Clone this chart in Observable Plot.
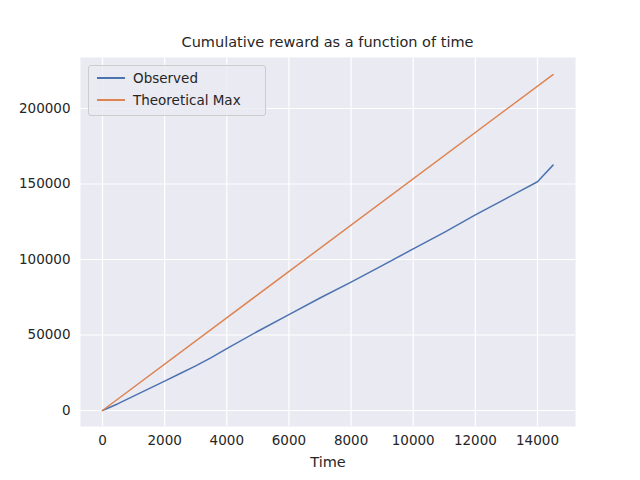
<!DOCTYPE html>
<html><head>
<script src="https://cdn.jsdelivr.net/npm/d3@7"></script>
<script src="https://cdn.jsdelivr.net/npm/@observablehq/plot@0.6"></script>
<style>
body{margin:0;background:#fff;font-family:"DejaVu Sans",sans-serif;}
#wrap{position:relative;width:640px;height:480px;}
#title{position:absolute;top:34px;left:80px;width:495px;text-align:center;font-size:14.5px;color:#262626;}
#legend{position:absolute;left:88px;top:65px;width:176px;height:49px;background:rgba(234,234,242,0.8);border:1px solid #ccc;border-radius:3px;font-size:13.5px;color:#262626;}
.li{position:absolute;left:8px;display:flex;align-items:center;}
.li span{display:inline-block;width:28px;height:2px;margin-right:8px;}
#chart{position:absolute;top:50px;left:0;}
</style></head><body>
<div id="wrap">
<div id="chart"></div>
<div id="title">Cumulative reward as a function of time</div>
<div id="legend">
<div class="li" style="top:4px"><span style="background:#4C72B0"></span>Observed</div>
<div class="li" style="top:26px"><span style="background:#DD8452"></span>Theoretical Max</div>
</div>
</div>
<script>
// time steps and cumulative reward
const times = [0, 500, 1000, 1500, 2000, 2500, 3000, 3500, 4000, 5000, 6000, 7000, 8000, 9000, 10000, 11000, 12000, 13000, 14000, 14500];
const observed = [0, 4500, 9500, 14500, 19500, 24500, 29500, 35000, 41000, 52500, 63500, 74500, 85000, 96000, 107000, 118000, 129500, 140500, 151500, 162500];
const maxTimes = [0, 14500];
const maxReward = [0, 222500];

const obsData = times.map((t, i) => ({t, v: observed[i]}));
const maxData = maxTimes.map((t, i) => ({t, v: maxReward[i]}));
const xTicks = d3.range(0, 14001, 2000);
const yTicks = d3.range(0, 200001, 50000);

const chart = Plot.plot({
  width: 640, height: 430,
  marginLeft: 80, marginRight: 65, marginTop: 7, marginBottom: 54,
  style: {fontFamily: "DejaVu Sans", fontSize: "13.5px", color: "#262626", background: "transparent"},
  x: {domain: [-708, 15223], label: null},
  y: {domain: [-10600, 233775], label: null},
  marks: [
    Plot.frame({fill: "#EAEAF2"}),
    Plot.gridX(xTicks, {stroke: "white", strokeOpacity: 1, strokeWidth: 1.2}),
    Plot.gridY(yTicks, {stroke: "white", strokeOpacity: 1, strokeWidth: 1.2}),
    Plot.axisX(xTicks, {tickSize: 0, tickPadding: 9, tickFormat: d => String(d), label: null}),
    Plot.axisY(yTicks, {tickSize: 0, tickPadding: 10, tickFormat: d => String(d), label: null}),
    Plot.text(["Time"], {frameAnchor: "bottom", dy: 40, fontSize: 14.5}),
    Plot.line(obsData, {x: "t", y: "v", stroke: "#4C72B0", strokeWidth: 1.5}),
    Plot.line(maxData, {x: "t", y: "v", stroke: "#DD8452", strokeWidth: 1.5})
  ]
});
document.getElementById("chart").append(chart);
</script>
</body></html>
